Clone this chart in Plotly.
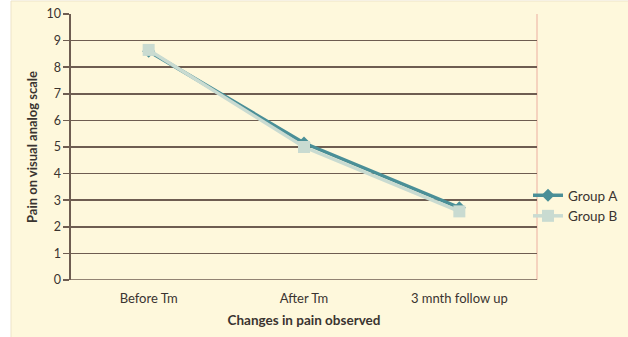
import plotly.graph_objects as go

categories = ["Before Tm", "After Tm", "3 mnth follow up"]
group_a = [8.6, 5.15, 2.72]
group_b = [8.65, 5.0, 2.58]
y_ticks = list(range(0, 11))

L, R, T, B = 71, 628 - 537, 14, 337 - 280
W, H = 628, 337
pw, ph = W - L - R, H - T - B

fig = go.Figure()
fig.add_trace(go.Scatter(
    x=categories, y=group_a, name="Group A", mode="lines+markers",
    line=dict(color="#4A8F97", width=3.5),
    marker=dict(symbol="diamond", size=10, color="#4A8F97"),
))
fig.add_trace(go.Scatter(
    x=categories, y=group_b, name="Group B", mode="lines+markers",
    line=dict(color="#C9DBD1", width=3.5),
    marker=dict(symbol="square", size=12, color="#C9DBD1"),
))

font = "Lato, 'Open Sans', sans-serif"
txt = "#3a3430"
grid = "#6E5D51"
fig.update_layout(
    width=W, height=H,
    margin=dict(l=L, r=R, t=T, b=B, pad=0, autoexpand=False),
    paper_bgcolor="white",
    plot_bgcolor="rgba(0,0,0,0)",
    font=dict(family=font, size=12, color=txt),
    showlegend=True,
    legend=dict(x=(528 - L) / pw, y=(280 - 180) / ph, xanchor="left", yanchor="top",
                bgcolor="rgba(0,0,0,0)", font=dict(size=13.5, color=txt),
                itemwidth=30, tracegroupgap=0),
    xaxis=dict(
        range=[-0.5, 2.5], showgrid=False, zeroline=False, automargin=False,
        showline=False, ticks="outside", ticklen=6, tickcolor="rgba(0,0,0,0)",
        tickfont=dict(size=13, color=txt),
        title=dict(text="<b>Changes in pain observed</b>", font=dict(size=13.5), standoff=10),
    ),
    yaxis=dict(
        range=[0, 10], tickvals=y_ticks, ticktext=[str(v) for v in y_ticks],
        showgrid=True, gridcolor=grid, gridwidth=1.6, automargin=False,
        zeroline=False, showline=True, linecolor=grid, linewidth=1.6,
        ticks="outside", ticklen=6, tickcolor=grid, tickwidth=1.6,
        tickfont=dict(size=12.5, color=txt),
        title=dict(text="<b>Pain on visual analog scale</b>", font=dict(size=13), standoff=6),
    ),
    shapes=[
        dict(type="rect", xref="paper", yref="paper",
             x0=(11 - L) / pw, x1=(W + 5 - L) / pw, y0=(280 - H - 5) / ph, y1=(280 - 1) / ph,
             fillcolor="#FEF8DC", line=dict(color="#EDE3C8", width=1), layer="below"),
        dict(type="line", xref="paper", yref="paper", x0=1, x1=1, y0=0, y1=1,
             line=dict(color="#F2C7B5", width=1.5), layer="below"),
        dict(type="line", xref="paper", yref="y", x0=0, x1=1, y0=0, y1=0,
             line=dict(color=grid, width=1.6), layer="above"),
    ],
)

fig.write_html(
    "out.html",
    config={"displayModeBar": False, "staticPlot": True},
    post_script="document.body.style.margin='0';document.body.style.overflow='hidden';",
)
